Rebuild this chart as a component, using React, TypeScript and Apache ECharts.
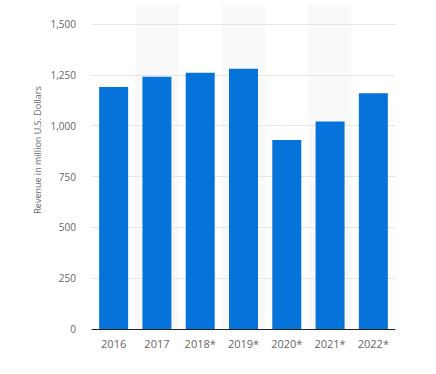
import React, { useEffect, useRef } from "react";
import * as echarts from "echarts";

const categories = ["2016", "2017", "2018*", "2019*", "2020*", "2021*", "2022*"];
const revenue = [1190, 1240, 1260, 1280, 930, 1020, 1160];
const yAxisTitle = "Revenue in million U.S. Dollars";

export default function App() {
  const ref = useRef<HTMLDivElement>(null);
  useEffect(() => {
    if (!ref.current) return;
    const chart = echarts.init(ref.current, undefined, { renderer: "svg" });
    const font = "'Open Sans', sans-serif";
    chart.setOption({
      animation: false,
      backgroundColor: "#ffffff",
      grid: [
        { left: 92, right: 41, top: 4, bottom: 45 },
        { left: 92, right: 41, top: 24, bottom: 45 },
      ],
      xAxis: [
        {
          gridIndex: 0,
          type: "category",
          data: categories,
          z: 0,
          axisLine: { show: false },
          axisTick: { show: false },
          axisLabel: { show: false },
          splitLine: { show: false },
          splitArea: {
            show: true,
            areaStyle: { color: ["rgba(0,0,0,0)", "rgba(0,0,0,0.024)"] },
          },
        },
        {
          gridIndex: 1,
          type: "category",
          data: categories,
          z: 3,
          axisLine: { show: true, lineStyle: { color: "#222222", width: 1 } },
          axisTick: { show: false },
          axisLabel: {
            color: "#666666",
            fontSize: 11,
            fontFamily: font,
            margin: 9,
          },
        },
      ],
      yAxis: [
        {
          gridIndex: 0,
          type: "value",
          min: 0,
          max: 1,
          z: 0,
          axisLine: { show: false },
          axisTick: { show: false },
          axisLabel: { show: false },
          splitLine: { show: false },
        },
        {
          gridIndex: 1,
          type: "value",
          min: 0,
          max: 1500,
          interval: 250,
          z: 3,
          axisLine: { show: false },
          axisTick: { show: false },
          axisLabel: {
            color: "#666666",
            fontSize: 10,
            fontFamily: font,
            margin: 16,
            formatter: (v: number) => v.toLocaleString("en-US"),
          },
          splitLine: { show: true, lineStyle: { color: "#e6e6e6", width: 1 } },
        },
      ],
      graphic: [
        {
          type: "text",
          x: 37,
          y: 150,
          rotation: Math.PI / 2,
          style: {
            text: yAxisTitle,
            fill: "#666666",
            font: "9px 'Open Sans', sans-serif",
            textAlign: "center",
            textVerticalAlign: "middle",
          },
        },
      ],
      series: [
        {
          type: "bar",
          xAxisIndex: 1,
          yAxisIndex: 1,
          data: revenue,
          barWidth: 29,
          z: 4,
          itemStyle: { color: "#0573da" },
        },
      ],
    });
    return () => chart.dispose();
  }, []);
  return (
    <div
      ref={ref}
      style={{ position: "fixed", left: 0, top: 0, width: 436, height: 374 }}
    />
  );
}
